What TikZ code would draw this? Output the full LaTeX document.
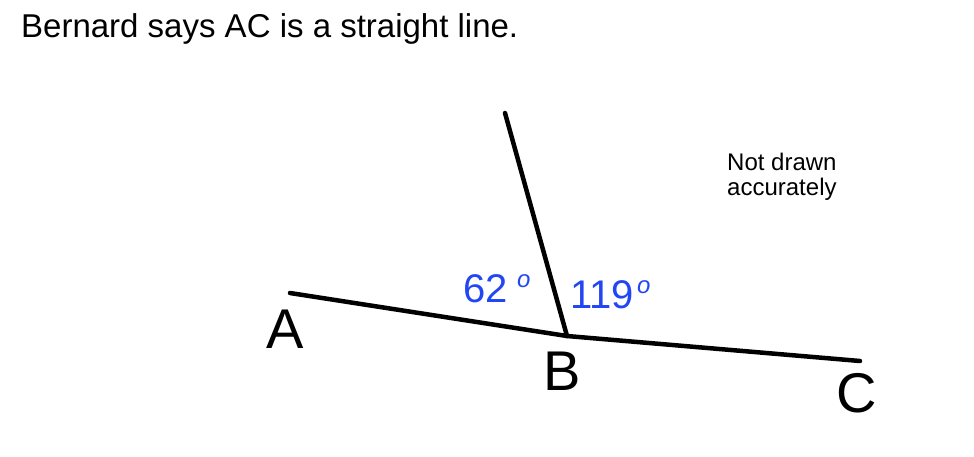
\documentclass[tikz,border=0pt]{standalone}
\usepackage{fontspec}
\setmainfont{Liberation Sans}
\definecolor{angblue}{RGB}{35,70,245}
\begin{document}
\begin{tikzpicture}[x=1pt,y=-1pt,
  seg/.style={line width=4.5pt,line cap=round,line join=round},
  txt/.style={inner sep=0pt,anchor=base west},
  ptlabel/.style={inner sep=0pt,anchor=base,font=\fontsize{56}{60}\selectfont},
  anglab/.style={inner sep=0pt,anchor=base west,text=angblue,font=\fontsize{40}{44}\selectfont},
  degmark/.style={inner sep=0pt,anchor=base west,text=angblue,font=\fontsize{24}{26}\selectfont\itshape}]
\useasboundingbox (0,0) rectangle (974,456);
\node[txt,font=\fontsize{33}{36}\selectfont] (title) at (21,37) {Bernard says AC is a straight line.};
\node[txt,font=\fontsize{24}{26}\selectfont] (note1) at (727,170) {Not drawn};
\node[txt,font=\fontsize{24}{26}\selectfont] (note2) at (727,195) {accurately};
\coordinate (A) at (290,293);
\coordinate (B) at (567,336);
\coordinate (C) at (860,361);
\coordinate (T) at (505,113);
\draw[seg] (A) -- (B) -- (C);
\draw[seg] (T) -- (B);
\node[ptlabel] (la) at (285,348) {A};
\node[ptlabel] (lb) at (562,390) {B};
\node[ptlabel] (lc) at (857,412) {C};
\node[anglab] (a62) at (463,302) {62};
\node[degmark] (d62) at (517,287) {o};
\node[anglab] (a119) at (570,308) {119};
\node[degmark] (d119) at (637,293) {o};
\end{tikzpicture}
\end{document}
